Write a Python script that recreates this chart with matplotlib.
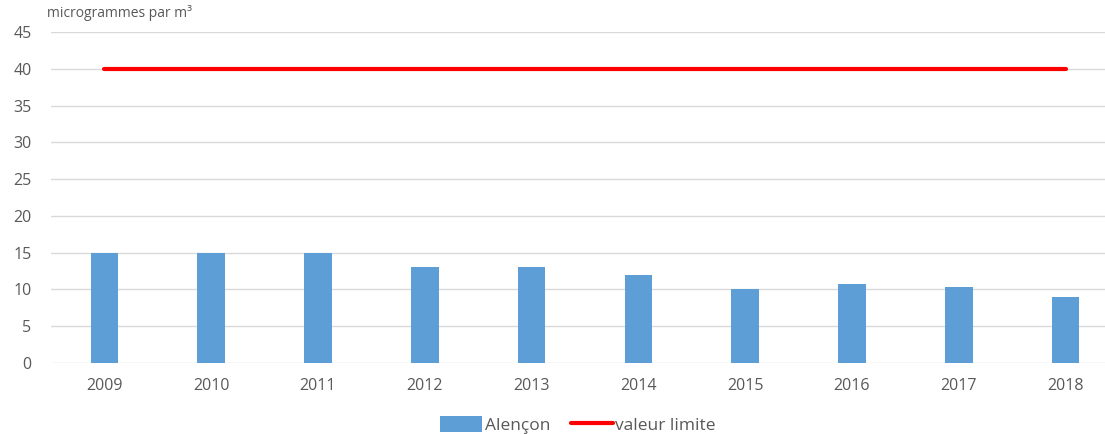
import matplotlib
matplotlib.use("Agg")
import matplotlib.pyplot as plt

years = ["2009", "2010", "2011", "2012", "2013", "2014", "2015", "2016", "2017", "2018"]
alencon = [15, 15, 15, 13, 13, 12, 10, 10.8, 10.4, 9]
limite = [40, 40, 40, 40, 40, 40, 40, 40, 40, 40]
yticks = [0, 5, 10, 15, 20, 25, 30, 35, 40, 45]

plt.rcParams['font.family'] = ['Open Sans', 'DejaVu Sans']
grey = '#595959'

fig = plt.figure(figsize=(11.05, 4.34), dpi=100)
ax = fig.add_axes([51 / 1105, 71 / 434, 1054 / 1105, 331 / 434])

x = list(range(len(years)))
bars = ax.bar(x, alencon, width=0.26, color='#5E9ED6', label='Alençon', zorder=2)
line, = ax.plot(x, limite, color='#FF0000', lw=3, solid_capstyle='round', label='valeur limite', zorder=3)

ax.set_xlim(-0.5, 9.369)
ax.set_ylim(0, 45)
ax.set_yticks(yticks)
ax.set_xticks(x)
ax.set_xticklabels(years)
ax.grid(axis='y', color='#D9D9D9', lw=1, zorder=0)
for s in ax.spines.values():
    s.set_visible(False)
ax.tick_params(axis='both', length=0, labelsize=11.5, colors=grey)
ax.tick_params(axis='y', pad=14)
ax.tick_params(axis='x', pad=11)

fig.text(47 / 1105, 1 - 17 / 434, 'microgrammes par m³', fontsize=10, color=grey, va='baseline')

fig.legend(handles=[bars, line], loc='center', bbox_to_anchor=(578 / 1105, 9 / 434), ncol=2,
           frameon=False, fontsize=12.5, handlelength=2.4, handleheight=1.0, handletextpad=0.15,
           columnspacing=1.2, labelcolor=grey, borderaxespad=0)

fig.savefig('out.png', dpi=100)
